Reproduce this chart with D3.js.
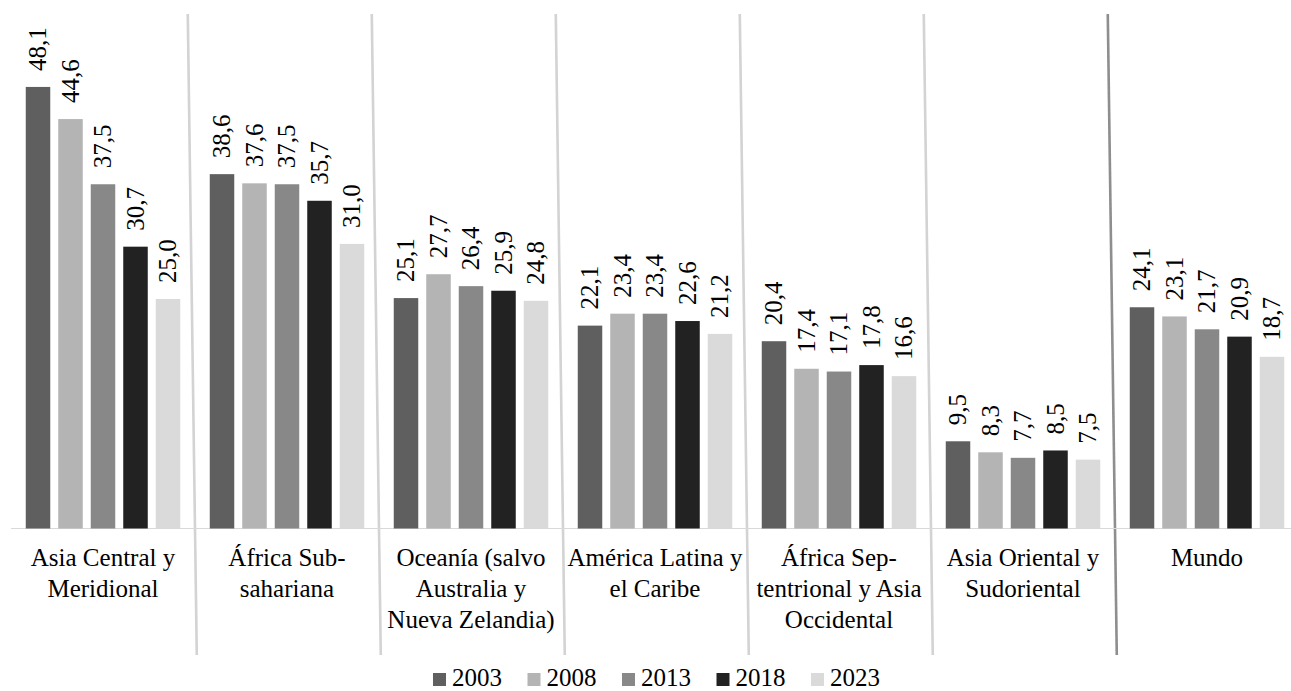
<!DOCTYPE html>
<html><head><meta charset="utf-8">
<script src="https://cdn.jsdelivr.net/npm/d3@7"></script>
<style>
body{margin:0;background:#fff}
svg{display:block}
svg text{font-family:"Liberation Serif","Times New Roman",Tinos,"DejaVu Serif",serif;font-size:25px;fill:#000}
</style>
</head><body>
<svg id="chart" width="1291" height="691"></svg>
<script>
// Regions (category keys) and their wrapped axis labels
const regions = ["Asia Central y Meridional", "África Subsahariana", "Oceanía (salvo Australia y Nueva Zelandia)",
  "América Latina y el Caribe", "África Septentrional y Asia Occidental", "Asia Oriental y Sudoriental", "Mundo"];
const regionLines = [
  ["Asia Central y", "Meridional"],
  ["África Sub-", "sahariana"],
  ["Oceanía (salvo", "Australia y", "Nueva Zelandia)"],
  ["América Latina y", "el Caribe"],
  ["África Sep-", "tentrional y Asia", "Occidental"],
  ["Asia Oriental y", "Sudoriental"],
  ["Mundo"]
];
const years = ["2003", "2008", "2013", "2018", "2023"];
const v2003 = [48.1, 38.6, 25.1, 22.1, 20.4, 9.5, 24.1];
const v2008 = [44.6, 37.6, 27.7, 23.4, 17.4, 8.3, 23.1];
const v2013 = [37.5, 37.5, 26.4, 23.4, 17.1, 7.7, 21.7];
const v2018 = [30.7, 35.7, 25.9, 22.6, 17.8, 8.5, 20.9];
const v2023 = [25.0, 31.0, 24.8, 21.2, 16.6, 7.5, 18.7];
const seriesValues = [v2003, v2008, v2013, v2018, v2023];
const colors = ["#5f5f5f", "#b4b4b4", "#888888", "#222222", "#dadada"];

const svg = d3.select("#chart");
const baseY = 528.5, topY = 14, divBottom = 655;

const x0 = d3.scaleBand().domain(regions).range([11, 11 + 7 * 184]).paddingInner(0).paddingOuter(0);
const x1 = d3.scaleBand().domain(years).range([14.75, 169.25]).paddingInner(0.246).paddingOuter(0);
const y = d3.scaleLinear().domain([0, 50]).range([baseY, baseY - 50 * 9.18]);

const fmt = d3.formatLocale({decimal: ",", thousands: ".", grouping: [3], currency: ["", ""]}).format(".1f");

// Category separators, drawn with a slight lean
const lean = 9 / (divBottom - topY);
regions.slice(1).forEach((r, i) => {
  const b = x0(r);
  svg.append("line")
    .attr("x1", b + (topY - baseY) * lean).attr("y1", topY)
    .attr("x2", b + (divBottom - baseY) * lean).attr("y2", divBottom)
    .attr("stroke", i === regions.length - 2 ? "#8e8e8e" : "#d3d3d3")
    .attr("stroke-width", 2.6);
});

// Baseline
svg.append("line").attr("x1", 11).attr("x2", 1291).attr("y1", baseY).attr("y2", baseY)
  .attr("stroke", "#d9d9d9").attr("stroke-width", 1);

// Bars and value labels
const groups = svg.selectAll("g.region").data(regions).join("g")
  .attr("class", "region")
  .attr("transform", d => `translate(${x0(d)},0)`);

groups.each(function (region, ri) {
  const g = d3.select(this);
  years.forEach((yr, si) => {
    const v = seriesValues[si][ri];
    g.append("rect")
      .attr("x", x1(yr)).attr("width", x1.bandwidth())
      .attr("y", y(v)).attr("height", y(0) - y(v))
      .attr("fill", colors[si]);
    const cx = x1(yr) + x1.bandwidth() / 2;
    const ty = y(v) - 16;
    g.append("text")
      .attr("transform", `translate(${cx},${ty}) rotate(-90)`)
      .attr("dy", "0.33em")
      .attr("text-anchor", "start")
      .text(fmt(v));
  });
  const t = g.append("text").attr("text-anchor", "middle");
  regionLines[ri].forEach((line, li) => {
    t.append("tspan").attr("x", x0.bandwidth() / 2).attr("y", 566 + li * 31).text(line);
  });
});

// Legend
const legend = svg.append("g").attr("transform", "translate(433,0)");
years.forEach((yr, i) => {
  const lg = legend.append("g").attr("transform", `translate(${i * 94.5},0)`);
  lg.append("rect").attr("x", 0).attr("y", 673).attr("width", 13).attr("height", 13).attr("fill", colors[i]);
  lg.append("text").attr("x", 19).attr("y", 686).text(yr);
});
</script>
</body></html>
